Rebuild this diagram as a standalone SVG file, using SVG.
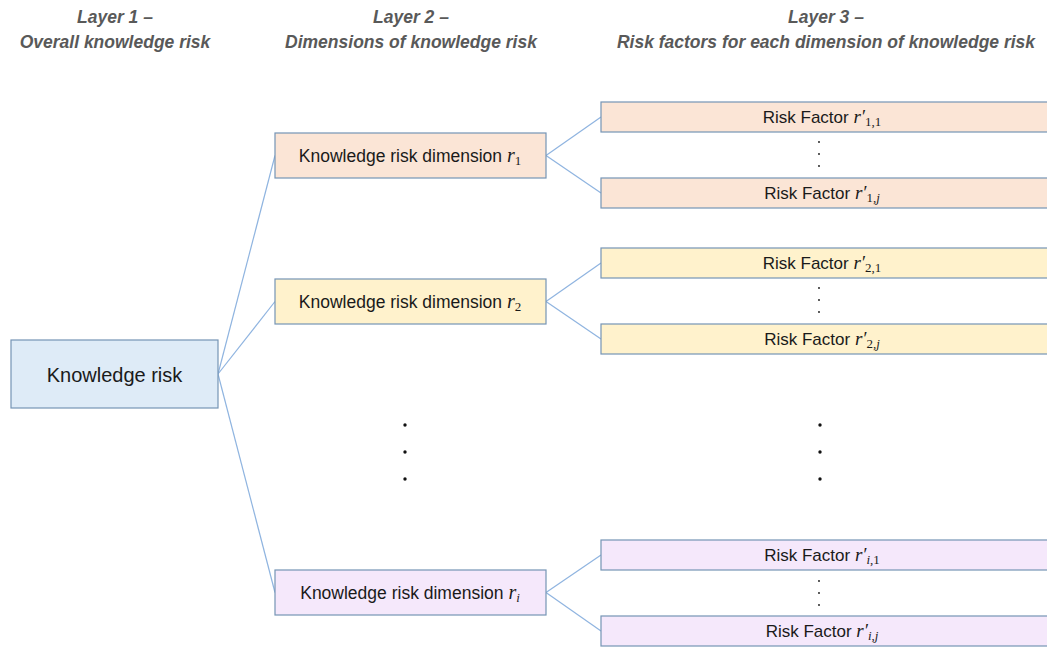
<svg xmlns="http://www.w3.org/2000/svg" width="1047" height="648" viewBox="0 0 1047 648">
<style>
.hdr{font-family:"Liberation Sans",Arial,sans-serif;font-style:italic;font-weight:bold;font-size:17.5px;fill:#595959;text-anchor:middle}
.t{font-family:"Liberation Sans",Arial,sans-serif;fill:#1a1a1a;text-anchor:middle}
.m{font-family:"Liberation Serif","DejaVu Serif",serif;font-style:italic}
.n{font-family:"Liberation Serif","DejaVu Serif",serif;font-style:normal}
.box{stroke:#7594b5;stroke-width:1.2}
.kr{fill:#deebf7}
.o{fill:#fbe5d6}
.y{fill:#fff2cc}
.p{fill:#f5e8fb}
.con line{stroke:#8fb4e0;stroke-width:1.2}
.dot{fill:#111}
</style>
<g id="headers">
<text class="hdr" x="115" y="23">Layer 1 –</text>
<text class="hdr" x="115" y="48">Overall knowledge risk</text>
<text class="hdr" x="411" y="23">Layer 2 –</text>
<text class="hdr" x="411" y="48">Dimensions of knowledge risk</text>
<text class="hdr" x="826" y="23">Layer 3 –</text>
<text class="hdr" x="826" y="48">Risk factors for each dimension of knowledge risk</text>
</g>
<g id="connectors" class="con">
<line x1="218" y1="374" x2="275" y2="155.5"/>
<line x1="218" y1="374" x2="275" y2="301.5"/>
<line x1="218" y1="374" x2="275" y2="592.5"/>
<line x1="546" y1="155.5" x2="601" y2="117"/>
<line x1="546" y1="155.5" x2="601" y2="193"/>
<line x1="546" y1="301.5" x2="601" y2="263"/>
<line x1="546" y1="301.5" x2="601" y2="339"/>
<line x1="546" y1="592.5" x2="601" y2="555"/>
<line x1="546" y1="592.5" x2="601" y2="631"/>
</g>
<g id="n-kr">
<rect class="box kr" x="11" y="340" width="207" height="68"/>
<text class="t" x="114.5" y="382" font-size="20">Knowledge risk</text>
</g>
<g id="n-d1">
<rect class="box o" x="275" y="133" width="271" height="45"/>
<text class="t" x="410" y="162" font-size="17.5">Knowledge risk dimension <tspan class="m" font-size="20">r</tspan><tspan class="n" font-size="13" dy="3">1</tspan></text>
</g>
<g id="n-d2">
<rect class="box y" x="275" y="279" width="271" height="45"/>
<text class="t" x="410" y="308" font-size="17.5">Knowledge risk dimension <tspan class="m" font-size="20">r</tspan><tspan class="n" font-size="13" dy="3">2</tspan></text>
</g>
<g id="n-di">
<rect class="box p" x="275" y="570" width="271" height="45"/>
<text class="t" x="410" y="599" font-size="17.5">Knowledge risk dimension <tspan class="m" font-size="20">r</tspan><tspan class="m" font-size="13" dy="3">i</tspan></text>
</g>
<g id="n-f11">
<rect class="box o" x="601" y="102" width="450" height="30"/>
<text class="t" x="822" y="123" font-size="17">Risk Factor <tspan class="m" font-size="19">r′</tspan><tspan class="n" font-size="13" dy="3">1,1</tspan></text>
</g>
<g id="n-f1j">
<rect class="box o" x="601" y="178" width="450" height="30"/>
<text class="t" x="822" y="199" font-size="17">Risk Factor <tspan class="m" font-size="19">r′</tspan><tspan class="n" font-size="13" dy="3">1,</tspan><tspan class="m" font-size="13">j</tspan></text>
</g>
<g id="n-f21">
<rect class="box y" x="601" y="248" width="450" height="30"/>
<text class="t" x="822" y="269" font-size="17">Risk Factor <tspan class="m" font-size="19">r′</tspan><tspan class="n" font-size="13" dy="3">2,1</tspan></text>
</g>
<g id="n-f2j">
<rect class="box y" x="601" y="324" width="450" height="30"/>
<text class="t" x="822" y="345" font-size="17">Risk Factor <tspan class="m" font-size="19">r′</tspan><tspan class="n" font-size="13" dy="3">2,</tspan><tspan class="m" font-size="13">j</tspan></text>
</g>
<g id="n-fi1">
<rect class="box p" x="601" y="540" width="450" height="30"/>
<text class="t" x="822" y="561" font-size="17">Risk Factor <tspan class="m" font-size="19">r′</tspan><tspan class="m" font-size="13" dy="3">i</tspan><tspan class="n" font-size="13">,1</tspan></text>
</g>
<g id="n-fij">
<rect class="box p" x="601" y="616" width="450" height="30"/>
<text class="t" x="822" y="637" font-size="17">Risk Factor <tspan class="m" font-size="19">r′</tspan><tspan class="m" font-size="13" dy="3">i</tspan><tspan class="n" font-size="13">,</tspan><tspan class="m" font-size="13">j</tspan></text>
</g>
<g id="dots">
<circle class="dot" cx="819" cy="142" r="0.9"/>
<circle class="dot" cx="819" cy="154" r="0.9"/>
<circle class="dot" cx="819" cy="166" r="0.9"/>
<circle class="dot" cx="819" cy="288" r="0.9"/>
<circle class="dot" cx="819" cy="300" r="0.9"/>
<circle class="dot" cx="819" cy="312" r="0.9"/>
<circle class="dot" cx="819" cy="581" r="0.9"/>
<circle class="dot" cx="819" cy="593" r="0.9"/>
<circle class="dot" cx="819" cy="605" r="0.9"/>
<circle class="dot" cx="405" cy="425" r="1.7"/>
<circle class="dot" cx="405" cy="452" r="1.7"/>
<circle class="dot" cx="405" cy="479" r="1.7"/>
<circle class="dot" cx="820" cy="425" r="1.7"/>
<circle class="dot" cx="820" cy="452" r="1.7"/>
<circle class="dot" cx="820" cy="479" r="1.7"/>
</g>
</svg>
